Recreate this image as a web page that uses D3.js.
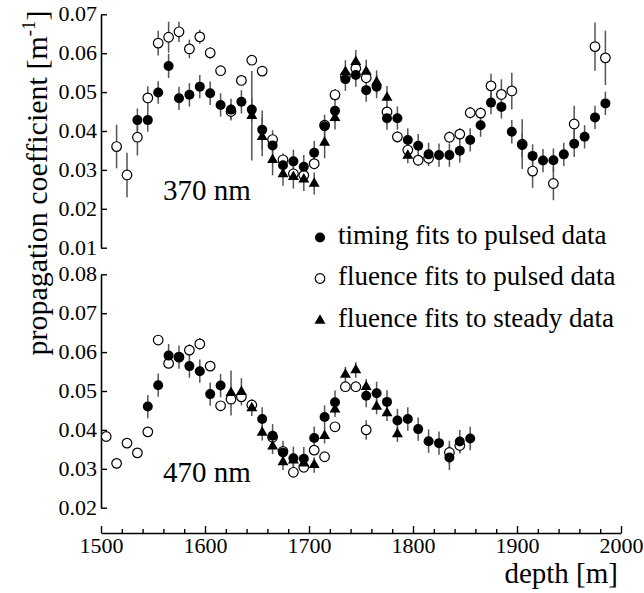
<!DOCTYPE html>
<html>
<head>
<meta charset="utf-8">
<script src="https://cdn.jsdelivr.net/npm/d3@7"></script>
<style>
  body { margin: 0; background: #fff; }
  svg { display: block; }
  text { font-family: "Liberation Serif", "Times New Roman", Times, serif; fill: #000; }
</style>
</head>
<body>
<svg id="chart" width="644" height="593"></svg>
<script>
// ---- axis ticks ----
const depthTicks = [1500, 1600, 1700, 1800, 1900, 2000];
const depthMinorTicks = d3.range(1500, 2001, 20);
const ticks370 = [0.01, 0.02, 0.03, 0.04, 0.05, 0.06, 0.07];
const ticks470 = [0.02, 0.03, 0.04, 0.05, 0.06, 0.07, 0.08];

// ---- 370 nm: timing fits to pulsed data ----
const timing370Depth = [1535,1545,1555,1565,1575,1585,1595,1605,1615,1625,1635,1645,1655,1665,1675,1685,1695,1705,1715,1725,1735,1745,1755,1765,1775,1785,1795,1805,1815,1825,1835,1845,1855,1865,1875,1885,1895,1905,1915,1925,1935,1945,1955,1965,1975,1985];
const timing370Value = [0.0428,0.0428,0.0499,0.0567,0.0484,0.0493,0.0514,0.0497,0.0467,0.0455,0.0475,0.0455,0.0403,0.0363,0.0312,0.0322,0.0308,0.0344,0.0412,0.0452,0.0533,0.0544,0.0505,0.0514,0.0433,0.0433,0.0377,0.0362,0.0340,0.0338,0.0338,0.0349,0.0377,0.0415,0.0473,0.0462,0.0398,0.0364,0.0336,0.0324,0.0325,0.0340,0.0367,0.0385,0.0435,0.0471];
const timing370Err = [0.003,0.003,0.0029,0.0031,0.003,0.003,0.003,0.003,0.003,0.0028,0.003,0.003,0.005,0.0039,0.003,0.003,0.003,0.003,0.003,0.003,0.003,0.003,0.003,0.003,0.003,0.003,0.003,0.003,0.003,0.003,0.003,0.003,0.003,0.003,0.003,0.003,0.003,0.003,0.003,0.003,0.003,0.003,0.0034,0.003,0.003,0.003];

// ---- 370 nm: fluence fits to pulsed data ----
const fluence370Depth = [1515,1525,1535,1545,1555,1565,1575,1585,1595,1605,1615,1625,1635,1645,1655,1665,1675,1685,1695,1705,1715,1725,1735,1745,1755,1775,1785,1795,1805,1815,1835,1845,1855,1865,1875,1885,1895,1905,1915,1935,1955,1975,1985];
const fluence370Value = [0.0360,0.0287,0.0384,0.0485,0.0626,0.0641,0.0655,0.0611,0.0642,0.0601,0.0555,0.0450,0.0530,0.0582,0.0554,0.0378,0.0326,0.0290,0.0286,0.0316,0.0415,0.0493,0.0541,0.0561,0.0537,0.0449,0.0385,0.0351,0.0325,0.0330,0.0384,0.0392,0.0447,0.0446,0.0516,0.0494,0.0503,0.0366,0.0297,0.0265,0.0418,0.0617,0.0588];
const fluence370Err = [0.0056,0.0057,0.0047,0.0030,0.0032,0.0040,0.0026,0.0024,0.0018,0.0015,0.0012,0.0020,0.0012,0.0012,0.0012,0.0015,0.0015,0.0015,0.0015,0.0015,0.0015,0.0015,0.0015,0.0015,0.0015,0.0015,0.0015,0.0015,0.0015,0.0015,0.0015,0.0015,0.0015,0.0015,0.0031,0.0039,0.0047,0.0064,0.0043,0.0043,0.0047,0.0062,0.0070];

// ---- 370 nm: fluence fits to steady data ----
const steady370Depth = [1645,1655,1665,1675,1685,1695,1705,1715,1725,1735,1745,1755,1765,1775,1795];
const steady370Value = [0.0439,0.0385,0.0326,0.0289,0.0282,0.0276,0.0265,0.0370,0.0434,0.0552,0.0578,0.0553,0.0526,0.0486,0.0337];
const steady370Err = [0.0115,0.005,0.004,0.003,0.003,0.003,0.0028,0.004,0.003,0.003,0.003,0.003,0.003,0.003,0.002];

// ---- 470 nm: timing fits to pulsed data ----
const timing470Depth = [1545,1555,1565,1575,1585,1595,1605,1615,1655,1665,1675,1685,1695,1705,1715,1725,1755,1765,1775,1785,1795,1805,1815,1825,1835,1845,1855];
const timing470Value = [0.0460,0.0515,0.0591,0.0587,0.0564,0.0551,0.0492,0.0514,0.0428,0.0385,0.0342,0.0327,0.0326,0.0379,0.0433,0.0471,0.0488,0.0494,0.0472,0.0424,0.0428,0.0402,0.0371,0.0366,0.0329,0.0370,0.0378];
const timing470Err = [0.003,0.003,0.003,0.003,0.003,0.003,0.003,0.003,0.003,0.003,0.003,0.003,0.003,0.003,0.003,0.003,0.003,0.003,0.003,0.003,0.003,0.003,0.003,0.003,0.0032,0.003,0.003];

// ---- 470 nm: fluence fits to pulsed data ----
const fluence470Depth = [1505,1515,1525,1535,1545,1555,1565,1575,1585,1595,1605,1615,1625,1635,1645,1665,1675,1685,1695,1705,1715,1725,1735,1745,1755,1835,1845];
const fluence470Value = [0.0383,0.0314,0.0366,0.0341,0.0395,0.0631,0.0571,0.0587,0.0605,0.0621,0.0564,0.0462,0.0479,0.0485,0.0464,0.0381,0.0345,0.0291,0.0304,0.0348,0.0331,0.0408,0.0511,0.0511,0.0400,0.0342,0.0360];
const fluence470Err = [0.001,0.001,0.001,0.001,0.001,0.001,0.001,0.001,0.0015,0.0015,0.001,0.001,0.001,0.001,0.0015,0.001,0.001,0.001,0.001,0.001,0.001,0.001,0.001,0.001,0.0025,0.003,0.002];

// ---- 470 nm: fluence fits to steady data ----
const steady470Depth = [1625,1635,1645,1655,1665,1675,1685,1695,1705,1715,1725,1735,1745,1755,1765,1775,1785];
const steady470Value = [0.0495,0.0498,0.0456,0.0393,0.0358,0.0317,0.0322,0.0314,0.0310,0.0385,0.0453,0.0542,0.0554,0.0511,0.0460,0.0443,0.0389];
const steady470Err = [0.0058,0.0035,0.002,0.002,0.002,0.002,0.002,0.002,0.002,0.002,0.002,0.002,0.002,0.002,0.002,0.002,0.002];

const legendLabels = ["timing fits to pulsed data", "fluence fits to pulsed data", "fluence fits to steady data"];

// ---- layout ----
const svg = d3.select("#chart");
const x = d3.scaleLinear().domain([1500, 2000]).range([101, 621]);
const y370 = d3.scaleLinear().domain([0.01, 0.07]).range([247.7, 14.3]);
const y470 = d3.scaleLinear().domain([0.02, 0.08]).range([507.7, 274.3]);
const xAxisY = 533;

const zip = (d, v, e) => d.map((dd, i) => ({ depth: dd, value: v[i], err: e[i] }));

const panels = [
  { y: y370, ticks: ticks370, label: "370 nm", labelY: 200,
    timing: zip(timing370Depth, timing370Value, timing370Err),
    fluence: zip(fluence370Depth, fluence370Value, fluence370Err),
    steady: zip(steady370Depth, steady370Value, steady370Err) },
  { y: y470, ticks: ticks470, label: "470 nm", labelY: 482,
    timing: zip(timing470Depth, timing470Value, timing470Err),
    fluence: zip(fluence470Depth, fluence470Value, fluence470Err),
    steady: zip(steady470Depth, steady470Value, steady470Err) }
];

const triangle = d3.symbol().type(d3.symbolTriangle).size(52);
const errColor = "#555";

function styleAxis(g, fontSize) {
  g.attr("font-family", null).attr("font-size", null);
  g.select(".domain").attr("stroke", "#000").attr("stroke-width", 1.6);
  g.selectAll(".tick line").attr("stroke", "#000").attr("stroke-width", 1.4);
  g.selectAll(".tick text").style("font-size", fontSize + "px");
}

panels.forEach(p => {
  // y axis with inward ticks
  const gy = svg.append("g")
    .attr("transform", `translate(${x.range()[0]},0)`)
    .call(d3.axisLeft(p.y).tickValues(p.ticks).tickFormat(d3.format(".2f"))
      .tickSizeInner(-6).tickSizeOuter(0).tickPadding(4));
  styleAxis(gy, 22);
  gy.selectAll(".tick text").attr("dy", "0.3em");

  const plot = svg.append("g");

  // error bars
  const all = [...p.steady, ...p.timing, ...p.fluence];
  plot.append("g").selectAll("line").data(all).join("line")
    .attr("x1", d => x(d.depth)).attr("x2", d => x(d.depth))
    .attr("y1", d => p.y(d.value - d.err)).attr("y2", d => p.y(d.value + d.err))
    .attr("stroke", errColor).attr("stroke-width", 1.5);

  // fluence fits to pulsed data: open circles
  plot.append("g").selectAll("circle").data(p.fluence).join("circle")
    .attr("cx", d => x(d.depth)).attr("cy", d => p.y(d.value)).attr("r", 4.8)
    .attr("fill", "#fff").attr("stroke", "#000").attr("stroke-width", 1.2);

  // timing fits to pulsed data: filled circles
  plot.append("g").selectAll("circle").data(p.timing).join("circle")
    .attr("cx", d => x(d.depth)).attr("cy", d => p.y(d.value)).attr("r", 5)
    .attr("fill", "#000");

  // fluence fits to steady data: filled triangles
  plot.append("g").selectAll("path").data(p.steady).join("path")
    .attr("d", triangle)
    .attr("transform", d => `translate(${x(d.depth)},${p.y(d.value)})`)
    .attr("fill", "#000");

  // wavelength label
  svg.append("text").attr("x", 163).attr("y", p.labelY)
    .style("font-size", "29px").text(p.label);
});

// depth axis: major and minor ticks pointing up
const gx = svg.append("g").attr("transform", `translate(0,${xAxisY})`)
  .call(d3.axisBottom(x).tickValues(depthTicks).tickFormat(d3.format("d"))
    .tickSizeInner(-7).tickSizeOuter(0).tickPadding(4.5));
styleAxis(gx, 22);
const gxMinor = svg.append("g").attr("transform", `translate(0,${xAxisY})`)
  .call(d3.axisBottom(x).tickValues(depthMinorTicks.filter(v => v % 100 !== 0))
    .tickFormat("").tickSizeInner(-4).tickSizeOuter(0));
gxMinor.select(".domain").remove();
gxMinor.selectAll(".tick line").attr("stroke", "#000").attr("stroke-width", 1.4);

// axis titles
svg.append("text").attr("x", 618).attr("y", 583).attr("text-anchor", "end")
  .style("font-size", "29px").text("depth [m]");

const yTitle = svg.append("text")
  .attr("transform", "translate(47,183) rotate(-90)")
  .attr("text-anchor", "middle")
  .style("font-size", "30px");
yTitle.append("tspan").text("propagation coefficient [m");
yTitle.append("tspan").attr("dy", -12).style("font-size", "19px").text("-1");
yTitle.append("tspan").attr("dy", 12).text("]");

// legend
const legend = svg.append("g");
const legendRows = [
  { y: 237.5, kind: "timing" },
  { y: 278.5, kind: "fluence" },
  { y: 320.5, kind: "steady" }
];
legendRows.forEach((r, i) => {
  if (r.kind === "timing") {
    legend.append("circle").attr("cx", 320).attr("cy", r.y).attr("r", 5).attr("fill", "#000");
  } else if (r.kind === "fluence") {
    legend.append("circle").attr("cx", 320).attr("cy", r.y).attr("r", 4.8)
      .attr("fill", "#fff").attr("stroke", "#000").attr("stroke-width", 1.2);
  } else {
    legend.append("path").attr("d", triangle).attr("transform", `translate(320,${r.y})`).attr("fill", "#000");
  }
  legend.append("text").attr("x", 338).attr("y", r.y + 6.5)
    .style("font-size", "27px").text(legendLabels[i]);
});
</script>
</body>
</html>
